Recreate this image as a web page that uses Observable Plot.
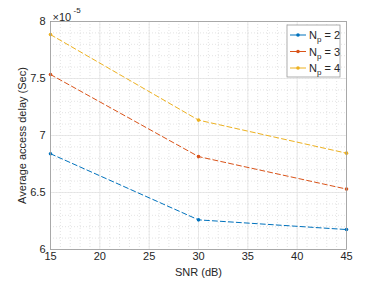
<!DOCTYPE html>
<html><head><meta charset="utf-8">
<script src="https://cdn.jsdelivr.net/npm/d3@7"></script>
<script src="https://cdn.jsdelivr.net/npm/@observablehq/plot@0.6"></script>
<style>body{margin:0;background:#fff}</style>
</head><body><div id="chart"></div>
<script>
const snr = [15, 30, 45];
const seriesNames = ["2", "3", "4"];
const np2 = [6.84, 6.26, 6.175];
const np3 = [7.535, 6.815, 6.53];
const np4 = [7.885, 7.135, 6.845];
const colors = ["#0072BD", "#D95319", "#EDB120"];
const xTicks = [15, 20, 25, 30, 35, 40, 45];
const yTicks = [6, 6.5, 7, 7.5, 8];
const yTickLabels = ["6", "6.5", "7", "7.5", "8"];
const xMinor = d3.range(15, 45.01, 1);
const yMinor = d3.range(6, 8.001, 0.1);

const values = [np2, np3, np4];
const data = [];
values.forEach((arr, s) => arr.forEach((v, i) => data.push({x: snr[i], y: v, s: seriesNames[s]})));

const font = "'Liberation Sans', Arial, Helvetica, sans-serif";
const chart = Plot.plot({
  width: 382, height: 281,
  marginLeft: 50, marginRight: 36, marginTop: 21, marginBottom: 32,
  style: {fontFamily: font, fontSize: "11px", color: "#262626", background: "#fff"},
  x: {domain: [15, 45]},
  y: {domain: [6, 8]},
  color: {domain: seriesNames, range: colors},
  marks: [
    Plot.gridX(xMinor, {stroke: "#d0d0d0", strokeOpacity: 1, strokeDasharray: "1,2", strokeWidth: 0.6}),
    Plot.gridY(yMinor, {stroke: "#d0d0d0", strokeOpacity: 1, strokeDasharray: "1,2", strokeWidth: 0.6}),
    Plot.gridX(xTicks, {stroke: "#e3e3e3", strokeOpacity: 1, strokeWidth: 0.8}),
    Plot.gridY(yTicks, {stroke: "#e3e3e3", strokeOpacity: 1, strokeWidth: 0.8}),
    Plot.line(data, {x: "x", y: "y", z: "s", stroke: "s", strokeWidth: 1, strokeDasharray: "5,3"}),
    Plot.dot(data, {x: "x", y: "y", fill: "s", r: 1.8}),
    Plot.frame({stroke: "#9a9a9a", strokeWidth: 0.8}),
    Plot.axisX({ticks: xTicks, tickSize: 0, tickPadding: 3, label: "SNR (dB)", labelAnchor: "center", labelArrow: "none", labelOffset: 26, fontSize: 11}),
    Plot.axisY({ticks: yTicks, tickFormat: (d) => yTickLabels[yTicks.indexOf(d)], tickSize: 0, tickPadding: 5, label: "Average access delay (Sec)", labelAnchor: "center", labelArrow: "none", labelOffset: 32, fontSize: 11}),
    Plot.text([0], {frameAnchor: "top-left", text: () => "×10", dx: 2, dy: -8, textAnchor: "start", fontSize: 11, fill: "#262626"}),
    Plot.text([0], {frameAnchor: "top-left", text: () => "-5", dx: 23, dy: -14, textAnchor: "start", fontSize: 8, fill: "#262626"})
  ]
});
document.getElementById("chart").appendChild(chart);

// legend
const svg = d3.select(chart);
const lg = svg.append("g").attr("font-family", font).attr("font-size", 11).attr("fill", "#262626").attr("text-anchor", "start");
lg.append("rect").attr("x", 287).attr("y", 25).attr("width", 53).attr("height", 52)
  .attr("fill", "#fff").attr("stroke", "#9a9a9a").attr("stroke-width", 0.8);
seriesNames.forEach((n, i) => {
  const yy = 35 + i * 16.5;
  lg.append("line").attr("x1", 290).attr("x2", 306).attr("y1", yy).attr("y2", yy)
    .attr("stroke", colors[i]).attr("stroke-width", 1);
  lg.append("circle").attr("cx", 298).attr("cy", yy).attr("r", 1.8).attr("fill", colors[i]);
  const t = lg.append("text").attr("x", 309).attr("y", yy + 4).attr("text-anchor", "start");
  t.append("tspan").text("N");
  t.append("tspan").attr("font-size", 8).attr("dy", 3).text("p");
  t.append("tspan").attr("dy", -3).text(" = " + n);
});
</script></body></html>
